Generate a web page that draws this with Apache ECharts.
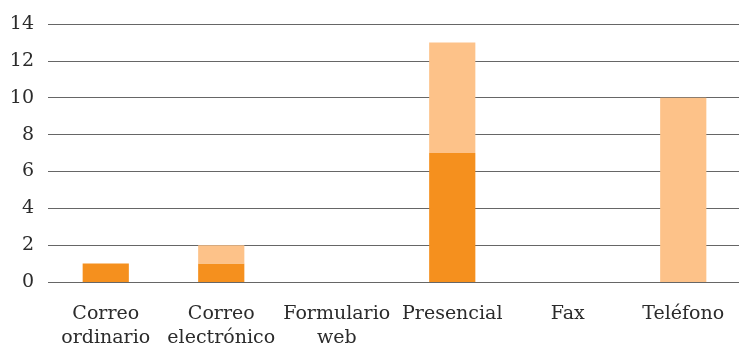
<!DOCTYPE html>
<html><head><meta charset="utf-8">
<script src="https://cdn.jsdelivr.net/npm/echarts@6/dist/echarts.min.js"></script>
<style>html,body{margin:0;padding:0;background:#fff}#c{width:739px;height:347px}</style>
</head><body><div id="c"></div>
<script>
const categories = ['Correo\nordinario','Correo\nelectrónico','Formulario\nweb','Presencial','Fax','Teléfono'];
const seriesDark = [1,1,0,7,0,0];
const seriesLight = [0,1,0,6,0,10];
const yTicks = {min:0,max:14,interval:2};
const font = 'DejaVu Serif';
const chart = echarts.init(document.getElementById('c'));
chart.setOption({
  animation:false,
  grid:{left:48,right:-2,top:24,bottom:65,outerBoundsMode:'none',containLabel:false},
  xAxis:{type:'category',data:categories,
    axisLine:{show:false},axisTick:{show:false},
    axisLabel:{fontFamily:font,fontSize:19,color:'#2b2b2b',margin:20,lineHeight:24,interval:0}},
  yAxis:{type:'value',min:yTicks.min,max:yTicks.max,interval:yTicks.interval,
    axisLine:{show:false},axisTick:{show:false},
    splitLine:{lineStyle:{color:'#666',width:1}},
    axisLabel:{fontFamily:font,fontSize:19,color:'#2b2b2b',margin:14}},
  series:[
    {type:'bar',stack:'a',data:seriesDark,barWidth:'40%',itemStyle:{color:'#F5901E'}},
    {type:'bar',stack:'a',data:seriesLight,barWidth:'40%',itemStyle:{color:'#FDC289'}}
  ]
});
</script></body></html>
